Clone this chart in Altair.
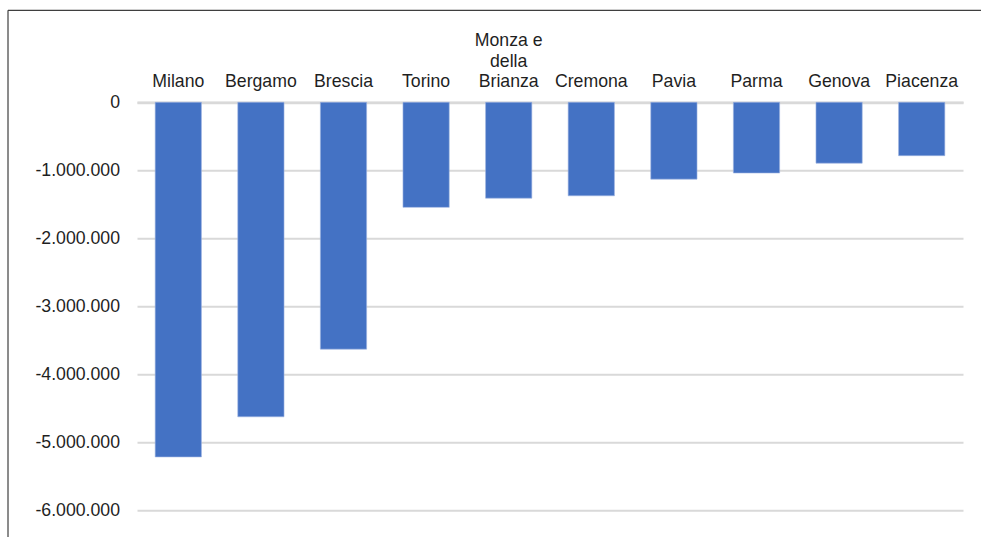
import altair as alt
import pandas as pd

# Provinces and their (negative) values
provinces = ["Milano", "Bergamo", "Brescia", "Torino", "Monza e della Brianza",
             "Cremona", "Pavia", "Parma", "Genova", "Piacenza"]
values = [-5215000, -4625000, -3630000, -1545000, -1410000,
          -1375000, -1130000, -1040000, -895000, -785000]

# Long names wrapped onto several lines in the axis labels
wrapped = {"Monza e della Brianza": ["Monza e", "della", "Brianza"]}

y_ticks = [0, -1000000, -2000000, -3000000, -4000000, -5000000, -6000000]

df = pd.DataFrame({"provincia": provinces, "valore": values})

FONT = "Liberation Sans, Arial, sans-serif"
TEXT = "#1f1f1f"
FS = 17.7
LH = 20.5
BASE_PAD = 11.3

label_expr = ""
for name, lines in wrapped.items():
    label_expr += f"datum.value == '{name}' ? {lines!r} : "
label_expr += "datum.value"

# Wrapped labels are lifted so their last line shares the common baseline
pad_value = BASE_PAD
for name, lines in reversed(list(wrapped.items())):
    pad_value = {"condition": {"test": f"datum.value == '{name}'",
                               "value": BASE_PAD + (len(lines) - 1) * LH},
                 "value": BASE_PAD}

# Italian number format: dot as thousands separator, plain hyphen for minus
y_label_expr = ("replace(replace(replace(format(datum.value, ','), ',', '.'), ',', '.'), "
                "'\u2212', '-')")

bars = alt.Chart(df).mark_bar(
    color="#4472C4", stroke="#9db3e0", strokeWidth=0.6
).encode(
    x=alt.X("provincia:N", sort=provinces, title=None,
            scale=alt.Scale(paddingInner=0.44, paddingOuter=0.22),
            axis=alt.Axis(orient="top", labelAngle=0, ticks=False, tickSize=0,
                          labelPadding=pad_value,
                          labelBaseline="bottom",
                          labelLineHeight=LH, labelExpr=label_expr,
                          labelFont=FONT, labelFontSize=FS, labelColor=TEXT,
                          domain=True, domainColor="#d9d9d9", domainWidth=2.7,
                          labelOverlap=False, labelLimit=200)),
    y=alt.Y("valore:Q", title=None,
            scale=alt.Scale(domain=[-6000000, 0], nice=False, zero=True),
            axis=alt.Axis(values=y_ticks, ticks=False, domain=False,
                          labelExpr=y_label_expr, labelPadding=17.5,
                          labelFont=FONT, labelFontSize=FS, labelColor=TEXT,
                          grid=True, gridColor="#d9d9d9", gridWidth=2)),
)

frame = alt.Data(values=[{}])
left_border = alt.Chart(frame).mark_rule(color="#3f3f3f", strokeWidth=1.2).encode(
    x=alt.value(-129), y=alt.value(-92), y2=alt.value(440)
)
top_border = alt.Chart(frame).mark_rule(color="#3f3f3f", strokeWidth=1.2).encode(
    x=alt.value(-129), x2=alt.value(850), y=alt.value(-92)
)

chart = alt.layer(bars, left_border, top_border).properties(
    width=826, height=408,
    autosize=alt.AutoSizeParams(type="none"),
    padding={"left": 137, "top": 102.3, "right": 18, "bottom": 27},
    background="white",
).configure_view(stroke=None)

chart.save("out.html", embed_options={"renderer": "svg", "actions": False})
